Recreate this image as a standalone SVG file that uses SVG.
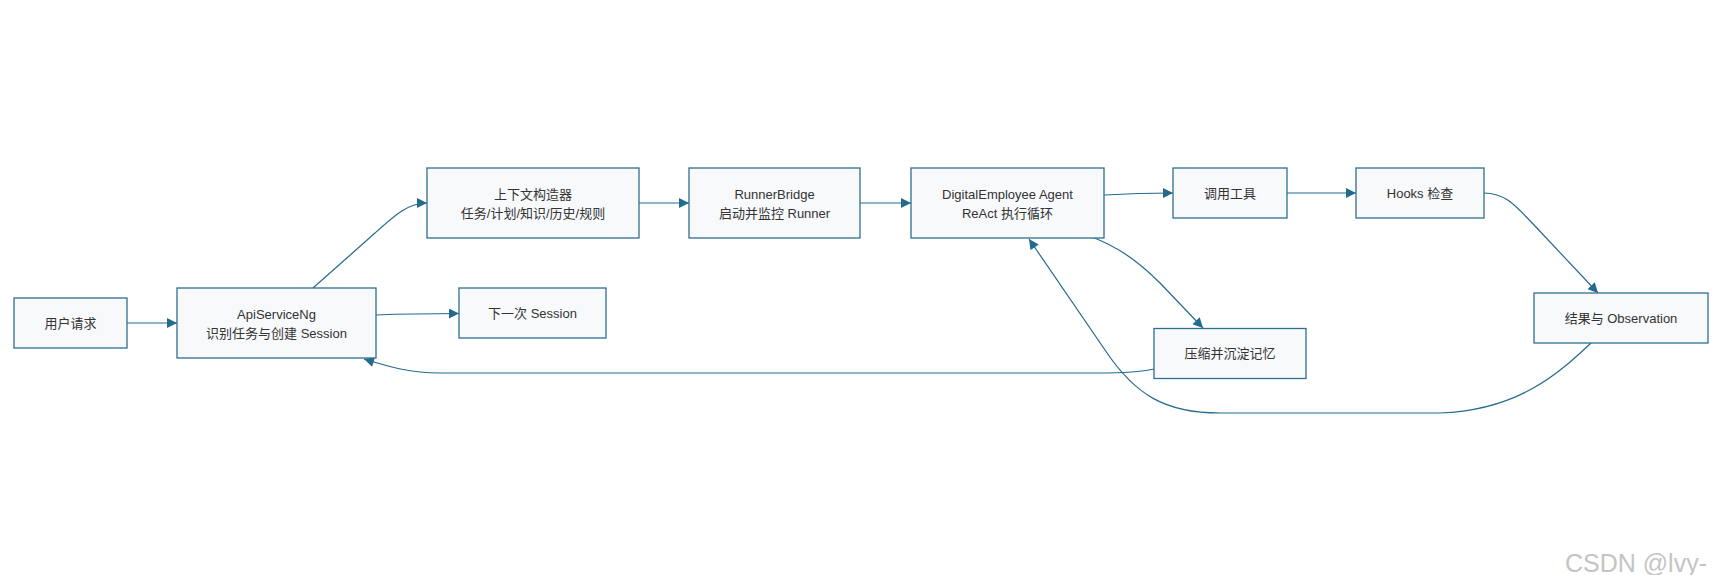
<svg xmlns="http://www.w3.org/2000/svg" width="1721" height="575" viewBox="0 0 1721 575">
<style>
.node rect{fill:#f8f9fb;stroke:#2f6f90;stroke-width:1.3}
.node text{font-family:"Liberation Sans","Noto Sans CJK SC",sans-serif;font-size:13px;fill:#333;text-anchor:middle}
.edge{fill:none;stroke:#236a8c;stroke-width:1.2;marker-end:url(#arrow)}
.wm{font-family:"Liberation Sans","Noto Sans CJK SC",sans-serif;font-size:25px;fill:#c4c4c4;text-anchor:end}
</style>
<defs>
<marker id="arrow" viewBox="0 0 10 10" refX="10" refY="5" markerWidth="11" markerHeight="10" markerUnits="userSpaceOnUse" orient="auto">
<path d="M0,0 L10,5 L0,10 z" fill="#236a8c"/>
</marker>
</defs>
<rect width="1721" height="575" fill="#fff"/>
<g id="connectors">
<path class="edge" d="M127,323 L177,323"/>
<path class="edge" d="M313,288 L375,233 C395,215 408,203 427,203"/>
<path class="edge" d="M376,315 C400,314 420,313.5 459,313.5"/>
<path class="edge" d="M639,203 L689,203"/>
<path class="edge" d="M860,203 L911,203"/>
<path class="edge" d="M1104,195 C1130,193.5 1150,193 1173,193"/>
<path class="edge" d="M1287,193 L1356,193"/>
<path class="edge" d="M1484,193 C1505,193 1515,205 1535,226 L1598,293"/>
<path class="edge" d="M1092,237 C1115,246 1135,258 1160,283 L1203,328"/>
<path class="edge" d="M1154,369 C1140,372 1120,373 1100,373 L440,373 C410,373 390,367 364,359"/>
<path class="edge" d="M1591,343 C1560,372 1520,410 1440,413 L1220,413 C1165,413 1135,395 1105,350 L1029,239"/>
</g>
<g id="user" class="node"><rect x="14" y="298" width="113" height="50"/><text x="70.5" y="327.5">用户请求</text></g>
<g id="api" class="node"><rect x="177" y="288" width="199" height="70"/><text x="276.5" y="318.5">ApiServiceNg</text><text x="276.5" y="337.5">识别任务与创建 Session</text></g>
<g id="next" class="node"><rect x="459" y="288" width="147" height="50"/><text x="532.5" y="317.5">下一次 Session</text></g>
<g id="ctx" class="node"><rect x="427" y="168" width="212" height="70"/><text x="533" y="198.5">上下文构造器</text><text x="533" y="217.5">任务/计划/知识/历史/规则</text></g>
<g id="runner" class="node"><rect x="689" y="168" width="171" height="70"/><text x="774.5" y="198.5">RunnerBridge</text><text x="774.5" y="217.5">启动并监控 Runner</text></g>
<g id="agent" class="node"><rect x="911" y="168" width="193" height="70"/><text x="1007.5" y="198.5">DigitalEmployee Agent</text><text x="1007.5" y="217.5">ReAct 执行循环</text></g>
<g id="tool" class="node"><rect x="1173" y="168" width="114" height="50"/><text x="1230" y="197.5">调用工具</text></g>
<g id="hooks" class="node"><rect x="1356" y="168" width="128" height="50"/><text x="1420" y="197.5">Hooks 检查</text></g>
<g id="result" class="node"><rect x="1534" y="293" width="174" height="50"/><text x="1621" y="322.5">结果与 Observation</text></g>
<g id="memory" class="node"><rect x="1154" y="328.5" width="152" height="50"/><text x="1230" y="358">压缩并沉淀记忆</text></g>
<text class="wm" x="1707" y="572">CSDN @lvy-</text>
</svg>
